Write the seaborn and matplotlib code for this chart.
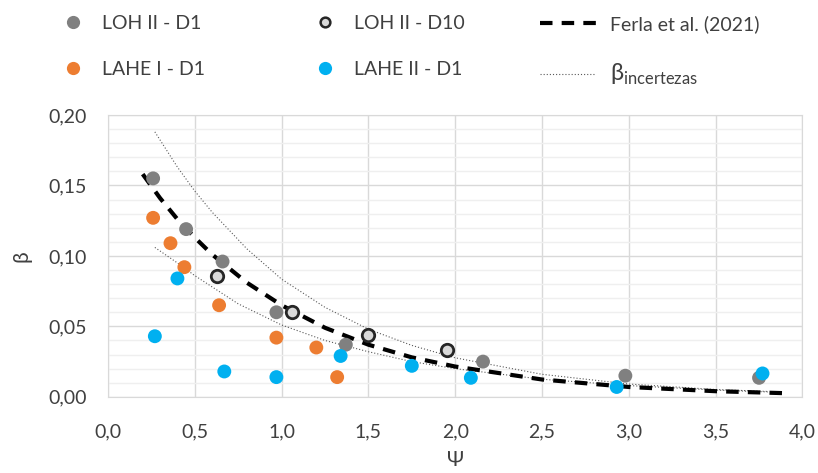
import numpy as np
import pandas as pd
import matplotlib
matplotlib.use('Agg')
import matplotlib.pyplot as plt
import seaborn as sns
from matplotlib.lines import Line2D
from matplotlib.ticker import MultipleLocator, FuncFormatter

# data
loh1_x = [0.26, 0.45, 0.66, 0.97, 1.37, 2.16, 2.98, 3.75]
loh1_y = [0.155, 0.119, 0.096, 0.060, 0.037, 0.025, 0.015, 0.0135]

loh10_x = [0.63, 1.06, 1.50, 1.95]
loh10_y = [0.086, 0.060, 0.044, 0.033]

lahe1_x = [0.26, 0.36, 0.44, 0.64, 0.97, 1.20, 1.32]
lahe1_y = [0.127, 0.109, 0.092, 0.065, 0.042, 0.035, 0.014]

lahe2_x = [0.27, 0.40, 0.67, 0.97, 1.34, 1.75, 2.09, 2.93, 3.77]
lahe2_y = [0.043, 0.084, 0.018, 0.014, 0.029, 0.022, 0.0135, 0.007, 0.0166]

ferla_x = [0.2, 0.3, 0.4, 0.5, 0.6, 0.8, 1.0, 1.25, 1.5, 1.75, 2.0, 2.5, 3.0, 3.5, 3.9]
ferla_y = [0.158, 0.141, 0.126, 0.113, 0.101, 0.081, 0.065, 0.049, 0.037, 0.028,
           0.0215, 0.0123, 0.0070, 0.0040, 0.0026]

sup_x = [0.27, 0.4, 0.5, 0.6, 0.8, 1.0, 1.25, 1.5, 1.75, 2.0, 2.5, 3.0, 3.5, 3.8]
sup_y = [0.188, 0.163, 0.146, 0.131, 0.105, 0.0835, 0.0635, 0.048, 0.0365, 0.0277,
         0.016, 0.0091, 0.0052, 0.0038]

inf_x = [0.27, 0.4, 0.5, 0.75, 1.0, 1.25, 1.5, 1.75, 2.0, 2.5, 3.0, 3.5, 3.8]
inf_y = [0.106, 0.095, 0.086, 0.066, 0.051, 0.040, 0.032, 0.025, 0.020, 0.0125,
         0.008, 0.0048, 0.0035]

sns.set_style('white')
plt.rcParams['font.family'] = ['Lato', 'DejaVu Sans']
plt.rcParams['mathtext.fontset'] = 'custom'
plt.rcParams['mathtext.rm'] = 'Lato'

fig = plt.figure(figsize=(8.18, 4.73), dpi=100)
ax = fig.add_axes([0.132, 0.161, 0.849, 0.596])

# curves
sns.lineplot(x=sup_x, y=sup_y, ax=ax, color='#595959', lw=0.8, linestyle=(0, (1, 1.8)))
sns.lineplot(x=inf_x, y=inf_y, ax=ax, color='#595959', lw=0.8, linestyle=(0, (1, 1.8)))
sns.lineplot(x=ferla_x, y=ferla_y, ax=ax, color='black', lw=3, linestyle=(0, (3, 2.2)))

# points
ms = 100
sns.scatterplot(x=loh1_x, y=loh1_y, ax=ax, color='#808080', s=ms, edgecolor='none', zorder=3)
sns.scatterplot(x=lahe1_x, y=lahe1_y, ax=ax, color='#ED7D31', s=ms, edgecolor='none', zorder=3)
sns.scatterplot(x=lahe2_x, y=lahe2_y, ax=ax, color='#00B0F0', s=ms, edgecolor='none', zorder=4)
sns.scatterplot(x=loh10_x, y=loh10_y, ax=ax, color='#D9D9D9', s=80, edgecolor='#262626',
                linewidth=2, zorder=4)

ax.set_xlim(0, 4)
ax.set_ylim(0, 0.2)
ax.xaxis.set_major_locator(MultipleLocator(0.5))
ax.yaxis.set_major_locator(MultipleLocator(0.05))
ax.yaxis.set_minor_locator(MultipleLocator(0.01))
ax.xaxis.set_major_formatter(FuncFormatter(lambda v, p: f'{v:.1f}'.replace('.', ',')))
ax.yaxis.set_major_formatter(FuncFormatter(lambda v, p: f'{v:.2f}'.replace('.', ',')))
ax.grid(which='major', color='#D9D9D9', lw=1)
ax.grid(which='minor', axis='y', color='#EFEFEF', lw=1)
ax.set_axisbelow(True)
for s in ax.spines.values():
    s.set_color('#D9D9D9')
ax.tick_params(which='both', length=0, labelsize=14, colors='#404040')
ax.tick_params(axis='x', pad=19)
ax.tick_params(axis='y', pad=15)
ax.set_xlabel('Ψ', fontsize=15, color='#404040', labelpad=7)
ax.set_ylabel('β', fontsize=15, color='#404040', labelpad=12)

dot = dict(ls='none', marker='o', ms=9.5, mec='none')
col1 = [Line2D([], [], color='#808080', **dot), Line2D([], [], color='#ED7D31', **dot)]
col2 = [Line2D([], [], ls='none', marker='o', ms=7, mfc='#D9D9D9', mec='#262626', mew=1.8),
        Line2D([], [], color='#00B0F0', **dot)]
col3 = [Line2D([], [], color='black', lw=3, ls=(0, (3, 2.2))),
        Line2D([], [], color='#595959', lw=0.8, ls=(0, (1, 1.8)))]

common = dict(frameon=False, fontsize=14, loc='upper left', borderpad=0, borderaxespad=0,
              labelspacing=1.5, labelcolor='#404040')
leg1 = fig.legend(col1, ['LOH II - D1', 'LAHE I - D1'], bbox_to_anchor=(0.072, 0.968),
                  handlelength=1.5, handletextpad=0.7, **common)
leg2 = fig.legend(col2, ['LOH II - D10', 'LAHE II - D1'], bbox_to_anchor=(0.380, 0.968),
                  handlelength=1.5, handletextpad=0.7, **common)
leg3 = fig.legend(col3, ['Ferla et al. (2021)', r'$\mathregular{β}_{\mathregular{incertezas}}$'],
                  bbox_to_anchor=(0.660, 0.968), handlelength=2.9, handletextpad=0.7,
                  **common)
leg3.get_texts()[1].set_fontsize(17)

fig.savefig('out.png', dpi=100)
